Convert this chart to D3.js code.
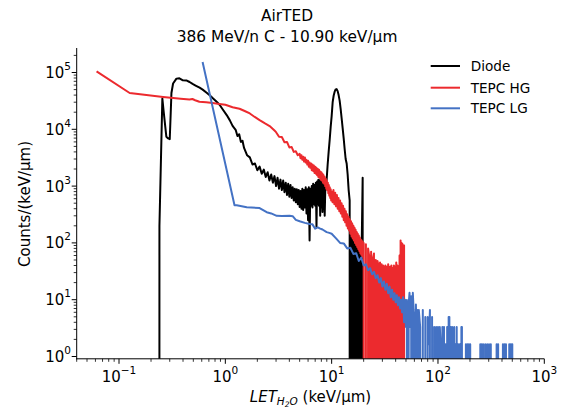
<!DOCTYPE html>
<html><head><meta charset="utf-8">
<script src="https://cdn.jsdelivr.net/npm/d3@7"></script>
<style>
body{margin:0;background:#fff}
text{font-family:"DejaVu Sans",sans-serif;fill:#000}
</style></head>
<body><svg id="chart" width="566" height="411"></svg>
<script>
// ---------- data ----------
const titleLines = ["AirTED", "386 MeV/n C - 10.90 keV/\u03bcm"];
const seriesNames = ["Diode", "TEPC HG", "TEPC LG"];
const seriesColors = ["#000000", "#ec2a2e", "#4472c4"];
const xTickExps = [-1, 0, 1, 2, 3];
const yTickExps = [0, 1, 2, 3, 4, 5];

const diodeLET = [0.236,0.240,0.2556,0.262,0.2787,0.290,0.300,0.306,0.3112,0.3225,0.3468,0.370,0.399,0.430,0.461,0.492,0.525,0.573,0.612,0.667,0.712,0.759,0.828,0.883,0.943,1.03,1.10,1.17,1.25,1.30,1.35,1.40,1.45,
1.5,1.6,1.7,1.8,1.9,2.0,2.1,2.2,2.3,2.4,2.5,2.6,2.7,2.8,2.9,3.0,3.1,3.2,3.3,3.4,3.5,3.6,3.7,3.8,3.9,4.0,4.1,4.2,4.3,4.4,4.5,4.6,4.7,4.8,4.9,5.0,5.1,5.2,5.3,5.4,5.5,5.6,5.7,5.8,5.9,6.0,6.1,6.2,6.3,6.4,6.5,6.6,6.7,6.8,6.9,7.0,7.1,7.2,7.3,7.4,7.5,7.6,7.7,7.8,7.9,8.0,8.1,8.2,8.3,8.4,8.5,8.6,8.7,
8.78,8.97,9.17,9.37,9.58,9.79,10.0,10.22,10.44,10.67,10.9,11.14,11.39,11.63,11.89,12.15,12.42,12.69,12.97,13.25,13.54,13.84,14.14,14.45,14.77,
15.09,15.42,15.76,16.1,16.46,16.82,17.19,17.56,17.95,18.34,18.74,19.15,19.57,20.0];
const diodeCounts = [0,200,35000,22000,7400,6900,6700,18000,43500,64000,78000,79000,73000,72500,68000,63000,59000,54000,50000,44000,40000,35500,30500,27000,22500,17800,14500,11500,9800,7600,8200,6000,6300,
4700,3500,3200,2400,2500,1900,2200,1650,1950,1450,1750,1250,1600,1150,1500,1000,1400,900,1300,850,1250,780,1150,700,1100,650,1050,620,950,560,900,520,880,480,850,430,820,400,900,380,850,420,950,330,880,250,950,110,900,450,1000,420,1100,480,1050,450,1150,190,1200,480,1300,450,1250,300,1350,420,1300,350,1400,400,1200,300,800,
900,1300,2400,4000,6500,11000,17000,30000,39000,46000,50500,51000,47000,40000,32000,23000,15500,10500,7000,4500,3000,2500,1600,850,560,
0,220,0,150,0,120,0,100,0,90,0,80,1400,0];

const hgLET = [0.0615,0.126,0.26,0.38,0.46,0.49,0.52,0.57,0.66,0.76,0.88,1.0,1.17,1.36,1.52,1.7,1.89,2.1,2.34,2.61,2.9,
3.0,3.2,3.4,3.6,3.8,4.0,4.2,4.4,4.6,4.8,
5.0,5.1,5.2,5.3,5.4,5.5,5.6,5.7,5.8,5.9,6.0,6.1,6.2,6.3,6.4,6.5,6.6,6.7,6.8,6.9,7.0,7.1,7.2,7.3,7.4,7.5,7.6,7.7,7.8,7.9,8.0,8.1,8.2,8.3,8.4,8.5,8.6,8.7,8.8,8.9,9.0,9.1,9.2,9.3,9.4,9.5,9.6,9.7,9.8,9.9,10.0,
10.2,10.4,10.6,10.8,11.0,11.2,11.4,11.6,11.8,12.0,12.2,12.4,12.6,12.8,13.0,13.2,13.4,13.6,13.8,14.0,14.2,14.4,14.6,14.8,15.0,15.2,15.4,15.6,15.8,16.0,16.2,16.4,16.6,16.8,17.0,17.2,17.4,17.6,17.8,18.0,18.2,18.4,18.6,18.8,19.0,19.2,19.4,19.6,19.8,20.0,
20.5,21.0,21.5,22.0,22.5,23.0,23.5,24.0,24.5,25.0,25.5,26.0,26.5,27.0,27.5,28.0,28.5,29.0,29.5,30.0,30.5,31.0,31.5,32.0,32.5,33.0,33.5,34.0,34.5,35.0,35.5,36.0,36.5,37.0,37.5,38.0,38.5,39.0,39.5,40.0,40.5,41.0,41.5,42.0,42.5,43.0,43.5,44.0,44.5,45.0,45.5,46.0,46.5,47.0,47.5,48.0,48.5];
const hgCounts = [105000,43500,37000,34500,33500,34200,32500,30500,30000,29000,28000,27000,24500,23000,21000,19000,16500,14500,12800,11400,9500,
8900,7400,7300,5900,6000,4800,4900,4000,4100,3500,
3700,3100,3500,2900,3300,2700,3200,2600,2900,2400,2800,2200,2600,2100,2500,1900,2400,1850,2300,1700,2200,1650,2100,1550,2000,1450,1950,1400,1800,1300,1750,1250,1650,1150,1550,1100,1450,1000,1350,900,1250,850,1150,750,1050,680,950,620,880,560,800,
520,850,480,760,440,700,400,620,360,560,330,500,290,450,250,400,230,360,200,320,180,290,165,260,145,240,130,220,120,200,110,185,100,170,92,155,85,145,78,135,72,125,66,115,62,110,58,105,55,100,
0,95,0,80,60,0,70,0,55,65,0,50,0,48,40,0,45,0,42,0,40,35,0,40,0,38,0,42,30,0,38,0,40,0,36,0,40,0,38,0,45,0,40,0,38,0,60,0,110,0,100,0,95,0,85,90,0];

const lgLET = [0.611,1.22,1.28,1.59,2.1,2.45,2.7,3.04,3.4,4.02,4.3,4.6,5.0,5.6,6.2,6.6,7.0,7.4,7.71,8.2,8.97,9.5,
10,11,12,13,14,15,16,17,18,19,20,21,22,23,24,25,26,27,28,29,30,31,32,33,34,35,36,37,38,39,40,41,42,43,44,45,46,47,48,49,
50,51,52,53,54,55,56,57,58,59,60,61,62,63,64,65,66,68,
70,72,74,76,78,80,82,84,86,88,90,92,94,96,98,
100,102,104,106,108,110,112,114,116,118,120,122,124,126,128,130,132,134,136,138,140,142,144,146,148,150,152,154,156,158,160,162,164,166,168,170,172,176,
180,183,186,189,192,195,198,201,204,246,250,254,258,262,266,272,278,284,290,296,302,308,314,320,350,356,362,368,374,400,408,415,422,429,436,443,460,468,476,484,492,500,508];
const lgCounts = [153000,460,460,425,410,347,330,300,298,300,295,255,240,225,215,212,178,188,180,172,155,150,
145,120,100,98,80,82,64,66,48,55,40,42,33,36,28,31,24,27,20,24,17,21,15,19,13,17,11,15,10,13,9,12,8,11,7,10,6,11,4,10,
3.3,9.9,0,8.25,13.2,3.3,11.5,0,13.2,6.6,4.95,0,8.25,1.65,6.6,0,6.6,3.3,
0,6.6,0,4.95,0,4.95,1.65,6.6,0,4.95,0,3.3,0,3.3,0,
3.3,0,3.3,1.65,0,3.3,0,3.3,0,1.65,0,3.3,0,4.95,4.95,0,3.3,0,3.3,1.65,0,3.3,0,1.65,0,3.3,0,1.65,0,1.65,0,1.65,0,3.3,3.3,0,0,0,
0,1.65,0,1.65,0,1.65,0,1.65,0,0,1.65,0,1.65,0,1.65,0,1.65,0,1.65,0,1.65,0,1.65,0,0,1.65,0,1.65,0,0,1.65,0,1.65,0,1.65,0,0,1.65,0,1.65,0,1.65,0];

// ---------- layout ----------
const svg = d3.select("#chart");
const L = 76.7, R = 544.3, T = 48, B = 358.8;
const x = d3.scaleLog().domain([0.04, 1000]).range([L, R]);
const y = d3.scaleLog().domain([0.911, 2.7e5]).range([B, T]);
const yPos = v => v > 0 ? y(v) : B + 10000;

svg.append("defs").append("clipPath").attr("id", "plotclip")
  .append("rect").attr("x", L).attr("y", T).attr("width", R - L).attr("height", B - T);

const series = [
  {let: diodeLET, counts: diodeCounts},
  {let: hgLET, counts: hgCounts},
  {let: lgLET, counts: lgCounts}
];
const line = d3.line().x(d => x(d[0])).y(d => yPos(d[1]));
const g = svg.append("g").attr("clip-path", "url(#plotclip)");
series.forEach((s, i) => {
  const pts = s.let.map((v, k) => [v, s.counts[k]]);
  g.append("path").datum(pts).attr("d", line)
    .attr("fill", "none").attr("stroke", seriesColors[i])
    .attr("stroke-width", 2).attr("stroke-linejoin", "round");
});

// ---------- axes ----------
const xMinor = [], yMinor = [];
for (let e = -2; e <= 2; e++) for (let m = 2; m <= 9; m++) { const v = m * Math.pow(10, e); if (v >= 0.04 && v <= 1000) xMinor.push(v); }
for (let e = -1; e <= 5; e++) for (let m = 2; m <= 9; m++) { const v = m * Math.pow(10, e); if (v >= 0.911 && v <= 2.7e5) yMinor.push(v); }

const axG = svg.append("g").attr("stroke", "#000").attr("stroke-width", 1);
axG.append("line").attr("x1", L).attr("x2", L).attr("y1", T).attr("y2", B + 0.5);
axG.append("line").attr("x1", L - 0.5).attr("x2", R).attr("y1", B).attr("y2", B);
xTickExps.forEach(e => { const px = x(Math.pow(10, e)); axG.append("line").attr("x1", px).attr("x2", px).attr("y1", B).attr("y2", B + 5); });
xMinor.forEach(v => { const px = x(v); axG.append("line").attr("x1", px).attr("x2", px).attr("y1", B).attr("y2", B + 3).attr("stroke-width", 0.8); });
yTickExps.forEach(e => { const py = y(Math.pow(10, e)); axG.append("line").attr("x1", L - 5).attr("x2", L).attr("y1", py).attr("y2", py); });
yMinor.forEach(v => { const py = y(v); axG.append("line").attr("x1", L - 3).attr("x2", L).attr("y1", py).attr("y2", py).attr("stroke-width", 0.8); });

// tick labels
xTickExps.forEach(e => {
  const t = svg.append("text").attr("x", x(Math.pow(10, e))).attr("y", 382).attr("text-anchor", "middle").attr("font-size", 15);
  t.append("tspan").text("10");
  t.append("tspan").attr("dy", -8).attr("font-size", 10.5).text(e < 0 ? "\u2212" + (-e) : String(e));
});
yTickExps.forEach(e => {
  const t = svg.append("text").attr("x", 71).attr("y", y(Math.pow(10, e)) + 5.5).attr("text-anchor", "end").attr("font-size", 15);
  t.append("tspan").text("10");
  t.append("tspan").attr("dy", -8).attr("font-size", 10.5).text(String(e));
});

// axis labels
const xl = svg.append("text").attr("x", (L + R) / 2).attr("y", 401.5).attr("text-anchor", "middle").attr("font-size", 15);
xl.append("tspan").attr("font-style", "italic").text("LET");
xl.append("tspan").attr("font-style", "italic").attr("font-size", 10.5).attr("dy", 3).text("H");
xl.append("tspan").attr("font-style", "italic").attr("font-size", 7.5).attr("dy", 2).text("2");
xl.append("tspan").attr("font-style", "italic").attr("font-size", 10.5).attr("dy", -2).text("O");
xl.append("tspan").attr("dy", -3).text(" (keV/\u03bcm)");

svg.append("text").attr("transform", "translate(30,204) rotate(-90)").attr("text-anchor", "middle")
  .attr("font-size", 15).text("Counts/(keV/\u03bcm)");

// title
svg.append("text").attr("x", 287).attr("y", 20.5).attr("text-anchor", "middle").attr("font-size", 15.4).text(titleLines[0]);
svg.append("text").attr("x", 287).attr("y", 41.5).attr("text-anchor", "middle").attr("font-size", 15.4).text(titleLines[1]);

// legend
const legY = [66, 87.7, 108.3];
seriesNames.forEach((n, i) => {
  svg.append("line").attr("x1", 430.7).attr("x2", 460).attr("y1", legY[i]).attr("y2", legY[i])
    .attr("stroke", seriesColors[i]).attr("stroke-width", 2);
  svg.append("text").attr("x", 470.7).attr("y", legY[i] + 5).attr("font-size", 13.6).text(n);
});
</script></body></html>
